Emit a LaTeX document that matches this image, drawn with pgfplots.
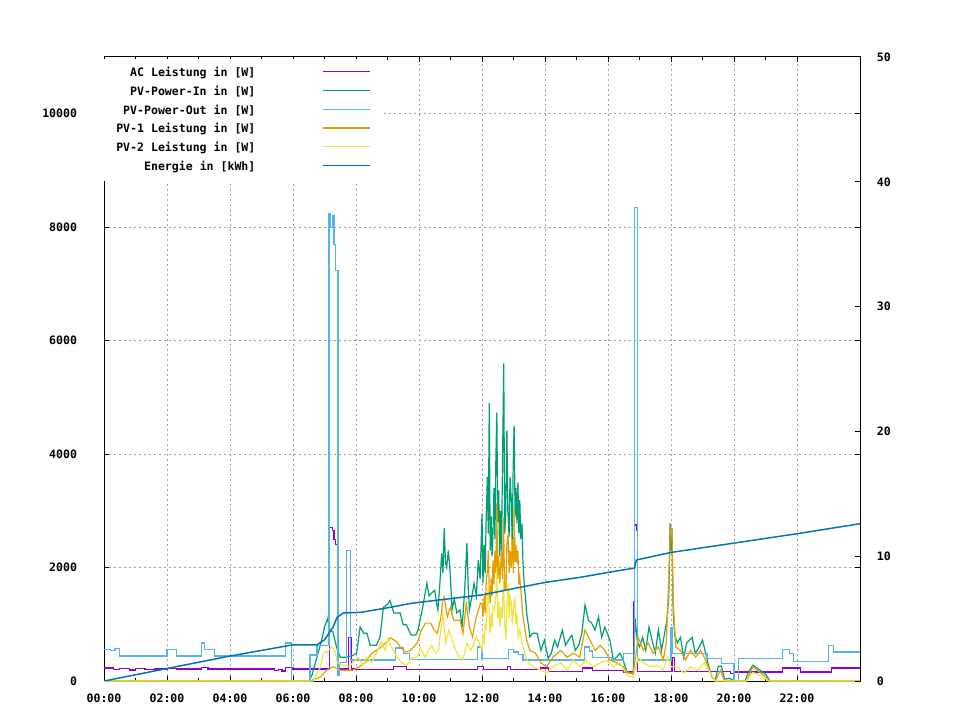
\documentclass[border=0pt]{standalone}
\usepackage{fontspec}
\setmainfont{DejaVu Sans Mono}
\usepackage{pgfplots}
\usepackage{pgfplotstable}
\pgfplotsset{compat=1.18}
\definecolor{cac}{HTML}{9400D3}
\definecolor{cin}{HTML}{009E73}
\definecolor{cout}{HTML}{56B4E9}
\definecolor{cpva}{HTML}{E69F00}
\definecolor{cpvb}{HTML}{F0E442}
\definecolor{cen}{HTML}{0072B2}
\definecolor{cgrid}{HTML}{A0A0A0}
\newcommand\gfont{\fontsize{8.7}{10}\selectfont\bfseries}

\pgfplotstableread{
t w
0 230
0.3 200
0.5 215
0.8 195
1.0 220
1.3 200
1.6 210
2.0 220
2.3 210
3.1 240
3.3 210
5.4 180
5.55 200
5.65 175
5.75 245
6.0 210
7.17 2710
7.25 2650
7.3 2500
7.35 2400
7.4 210
7.75 760
7.85 210
8.0 200
9.2 260
9.6 200
11.85 250
12.05 200
12.8 250
12.9 200
13.85 230
14.1 170
15.2 230
15.5 180
16.5 160
16.82 1400
16.85 2750
16.9 2650
16.93 170
18.03 420
18.1 170
19.9 130
20.0 160
21.55 230
22.1 160
23.1 230
24 230
}\tac

\pgfplotstableread{
t w
0 560
0.2 540
0.35 570
0.5 440
2.0 560
2.3 440
3.1 670
3.2 560
3.52 440
5.75 670
5.96 0
6.54 460
6.76 630
7.14 8240
7.2 8000
7.25 8200
7.3 7700
7.36 7230
7.43 100
7.47 330
7.7 2300
7.83 370
9.25 580
9.5 490
9.7 380
11.85 600
12.0 390
12.83 560
13.0 510
13.15 470
13.3 370
15.25 600
15.4 530
15.5 420
16.1 370
16.5 490
16.85 8340
16.93 370
18.0 950
18.06 490
19.14 400
19.6 310
20.0 0
20.13 390
21.55 560
21.75 490
21.9 350
23.0 620
23.15 510
24 510
}\tout

\pgfplotstableread{
t w
0 0
6.5 0
6.6 100
6.7 300
6.8 500
6.9 700
7.0 950
7.1 1100
7.17 900
7.27 860
7.38 600
7.5 420
7.7 420
7.9 450
8.02 490
8.13 950
8.25 840
8.35 840
8.45 630
8.65 630
8.76 770
8.87 1300
9.0 1350
9.08 1420
9.2 1200
9.4 1200
9.5 990
9.6 990
9.75 810
9.9 810
9.97 900
10.1 1250
10.25 1720
10.32 1500
10.4 1550
10.5 1600
10.55 1400
10.6 1250
10.66 1700
10.72 2250
10.76 1900
10.8 2700
10.84 2100
10.88 2000
10.93 2300
10.98 2000
11.05 1250
11.12 1450
11.2 1200
11.3 1250
11.37 950
11.45 1600
11.52 2430
11.56 1700
11.6 1250
11.68 1500
11.75 1720
11.82 1500
11.88 2130
11.94 1800
12.00 2950
12.03 1720
12.07 2400
12.10 1900
12.13 2800
12.17 3600
12.20 2600
12.23 4900
12.26 2300
12.29 2900
12.32 2200
12.35 2650
12.38 3400
12.41 2500
12.44 3900
12.47 4730
12.50 2800
12.53 3360
12.56 2200
12.59 3000
12.62 2300
12.65 3800
12.69 5600
12.72 2600
12.75 2890
12.79 4420
12.82 3000
12.86 2540
12.89 3600
12.93 3190
12.96 2400
12.99 3800
13.02 4500
13.05 2900
13.08 3400
13.11 2780
13.14 3500
13.17 2600
13.20 3190
13.23 2500
13.27 2780
13.30 2100
13.34 1720
13.42 1200
13.52 780
13.6 840
13.75 840
13.87 540
13.98 720
14.1 400
14.2 490
14.3 720
14.4 600
14.55 900
14.65 630
14.75 720
14.85 810
14.96 540
15.07 630
15.17 840
15.27 1340
15.38 1070
15.48 1020
15.59 900
15.7 1130
15.8 770
15.9 950
16.06 720
16.17 370
16.27 420
16.38 490
16.48 370
16.6 160
16.8 120
16.86 1100
16.93 700
17.0 600
17.1 770
17.2 540
17.3 950
17.4 720
17.5 490
17.6 900
17.7 540
17.87 1070
17.93 1500
17.97 2780
18.0 2300
18.03 2700
18.07 1200
18.12 800
18.2 670
18.3 770
18.4 420
18.5 670
18.67 770
18.77 490
18.9 600
19.0 720
19.1 490
19.2 250
19.3 70
19.4 0
19.5 260
19.6 260
19.7 30
19.85 50
20.0 0
20.35 0
20.45 150
20.6 280
20.8 200
21.0 120
21.15 0
24 0
}\tin

\pgfplotstableread{
t w
0 0
6.55 0
6.87 70
7.07 190
7.27 250
7.5 190
7.9 190
8.1 250
8.3 330
8.5 490
8.76 580
8.97 690
9.1 760
9.3 690
9.4 600
9.57 510
9.73 540
9.94 670
10.05 860
10.2 1020
10.37 1020
10.48 900
10.58 840
10.7 1130
10.75 1420
10.8 1480
10.9 1130
11.0 1300
11.1 1070
11.3 1070
11.4 840
11.5 1370
11.6 950
11.7 780
11.82 1130
11.95 1370
12.00 1370
12.03 1130
12.07 1500
12.10 1200
12.13 1700
12.17 1950
12.20 2300
12.23 1600
12.26 1370
12.29 1800
12.32 1500
12.35 2130
12.38 1700
12.41 2300
12.44 1900
12.47 3130
12.50 1800
12.53 2200
12.56 1720
12.59 2000
12.62 2300
12.65 1800
12.68 2890
12.72 1600
12.76 1600
12.79 2400
12.83 2600
12.86 1900
12.89 2300
12.93 2000
12.96 2500
13.0 1900
13.02 3060
13.05 2100
13.08 2400
13.1 2080
13.14 2300
13.17 1700
13.2 1830
13.25 1500
13.3 1130
13.42 720
13.52 540
13.7 490
13.87 320
14.05 250
14.25 420
14.5 540
14.7 420
14.9 490
15.1 420
15.27 900
15.43 720
15.59 540
15.75 630
15.9 540
16.06 370
16.27 320
16.48 250
16.64 140
16.8 140
16.96 770
17.12 540
17.28 670
17.43 490
17.6 600
17.75 370
17.85 670
17.93 1800
17.97 2500
18.0 2700
18.03 2600
18.07 1400
18.15 600
18.3 540
18.46 370
18.62 540
18.78 420
18.94 540
19.1 370
19.25 140
19.4 0
19.57 190
19.7 0
20.4 0
20.6 250
20.9 120
21.15 0
24 0
}\tpva

\pgfplotstableread{
t w
0 0
6.65 0
6.87 250
6.97 490
7.13 540
7.24 600
7.35 510
7.4 330
7.6 280
7.8 250
7.9 330
8.07 420
8.23 280
8.33 420
8.5 330
8.65 490
8.8 690
8.92 540
9.02 760
9.12 600
9.3 420
9.45 320
9.6 280
9.78 400
9.94 420
10.05 580
10.2 420
10.3 540
10.4 630
10.52 490
10.62 540
10.75 1200
10.85 670
10.95 900
11.05 720
11.2 490
11.35 370
11.45 490
11.52 670
11.65 540
11.82 780
12.0 540
12.03 800
12.07 650
12.1 1020
12.13 900
12.17 1400
12.2 1720
12.23 1100
12.26 840
12.29 1200
12.32 950
12.35 1300
12.4 1250
12.44 1500
12.47 2000
12.5 1100
12.53 1400
12.57 950
12.6 1300
12.64 1100
12.68 1830
12.72 1000
12.76 720
12.79 1300
12.83 1720
12.86 1100
12.89 1500
12.93 1370
12.96 1000
13.0 1300
13.04 1480
13.08 1000
13.11 1200
13.15 780
13.2 900
13.27 670
13.42 370
13.62 250
13.87 190
14.05 140
14.25 250
14.5 320
14.7 190
14.9 370
15.1 250
15.3 370
15.53 250
15.75 320
15.96 370
16.17 250
16.38 320
16.6 100
16.8 70
16.96 420
17.12 320
17.33 250
17.55 280
17.75 190
17.9 420
18.0 250
18.2 250
18.4 140
18.62 250
18.83 190
19.05 320
19.25 140
19.4 0
20.4 0
20.6 150
20.9 80
21.1 0
24 0
}\tpvb

\pgfplotstableread{
t e
0 0
2 1.0
4 2.0
6 2.9
6.76 2.9
7.0 3.3
7.27 4.3
7.4 5.1
7.6 5.45
8.15 5.5
9.08 5.9
9.7 6.2
10 6.3
12 6.9
14 7.9
15.1 8.3
16 8.7
16.84 9.05
16.9 9.7
18 10.3
20 11.05
22 11.8
24 12.6
}\ten

\begin{document}
\begin{tikzpicture}
\path[use as bounding box] (-78bp,-29.25bp) rectangle (642bp,510.75bp);
\begin{axis}[
  at={(0,0)}, anchor=south west, scale only axis,
  width=567bp, height=468bp,
  xmin=0, xmax=24, ymin=0, ymax=11000,
  scaled y ticks=false,
  xtick={0,2,...,22},
  xticklabels={00:00,02:00,04:00,06:00,08:00,10:00,12:00,14:00,16:00,18:00,20:00,22:00},
  minor x tick num=1,
  ytick={0,2000,4000,6000,8000,10000},
  yticklabels={0,2000,4000,6000,8000,10000},
  grid=major,
  major grid style={cgrid, line width=0.75bp, dash pattern=on 1.5bp off 2.25bp},
  axis line style={black, line width=0.75bp},
  tick style={black, line width=0.75bp},
  major tick length=4bp, minor tick length=2.5bp,
  tick align=inside,
  tick label style={font=\gfont},
  yticklabel style={xshift=-16.7bp},
  xticklabel style={yshift=-6bp},
  legend plot pos=right,
  legend cell align=right,
  legend style={at={(axis description cs:0,1)}, anchor=north west, yshift=-1.5bp,
    draw=none, fill=white, font=\gfont, inner xsep=9bp, inner ysep=6bp,
    row sep=5.1bp,
    nodes={inner sep=0pt, text height=7bp, text depth=2bp}},
  legend image code/.code={\path[draw=none] (0,0) -- (86.25bp,0);
    \draw[#1] (51bp,1.3bp) -- (86.25bp,1.3bp);},
  every axis plot/.append style={line width=0.9bp},
]
\addplot[cac, const plot] table[x=t,y=w] {\tac};
\addlegendentry{AC Leistung in [W]}
\addplot[cin, sharp plot] table[x=t,y=w] {\tin};
\addlegendentry{PV-Power-In in [W]}
\addplot[cout, const plot] table[x=t,y=w] {\tout};
\addlegendentry{PV-Power-Out in [W]}
\addplot[cpva, sharp plot] table[x=t,y=w] {\tpva};
\addlegendentry{PV-1 Leistung in [W]}
\addplot[cpvb, sharp plot] table[x=t,y=w] {\tpvb};
\addlegendentry{PV-2 Leistung in [W]}
\addlegendimage{cen, line width=1.1bp}
\addlegendentry{Energie in [kWh]}
\node[font=\gfont] at (axis description cs:0.4444,1.048) {Tagesdiagramm vom 2026-07-26};
\node[font=\gfont, rotate=90] at (axis description cs:-0.1177,0.468) {Leistung [W]};
\end{axis}
\begin{axis}[
  at={(0,0)}, anchor=south west, scale only axis,
  width=567bp, height=468bp,
  xmin=0, xmax=24, ymin=0, ymax=50,
  axis x line=none, axis y line*=right,
  ytick={0,10,20,30,40,50},
  yticklabels={0,10,20,30,40,50},
  axis line style={black, line width=0.75bp},
  tick style={black, line width=0.75bp},
  major tick length=4bp, tick align=inside,
  tick label style={font=\gfont},
  yticklabel style={xshift=9.2bp},
]
\addplot[cen, line width=1.1bp, sharp plot] table[x=t,y=e] {\ten};
\node[font=\gfont, rotate=90] at (axis description cs:1.0767,0.468) {Energie [kWh]};
\end{axis}
\end{tikzpicture}
\end{document}
